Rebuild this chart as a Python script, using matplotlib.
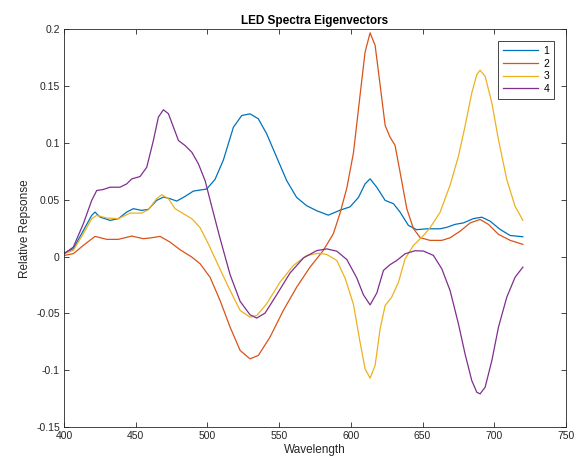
import matplotlib
matplotlib.use('Agg')
import matplotlib.pyplot as plt

plt.rcParams['font.family'] = ['Liberation Sans', 'DejaVu Sans']

# eigenvector curves (wavelength, value)
wl1 = [400, 406.5, 413.5, 419.3, 421.6, 425.1, 432.1, 437.9, 443.7, 448.3, 454.1, 458.8, 464.6,
       469.3, 473.9, 478.6, 484.4, 490.2, 499.5, 505.3, 511.1, 518.1, 523.9, 529.7, 535.5,
       541.3, 548.3, 555.3, 562.2, 569.2, 576.2, 584.3, 592.5, 599.4, 605.3, 609.9, 613.4,
       618.1, 623.9, 629.7, 634.3, 640.1, 645.9, 652.9, 662.2, 666.9, 672.7, 678.5, 685.5,
       691.3, 697.1, 704.1, 711.1, 719.9]
ev1 = [0.003, 0.007, 0.023, 0.0363, 0.0392, 0.0348, 0.0319, 0.0334, 0.0392, 0.0422, 0.0407,
       0.0416, 0.0495, 0.0524, 0.051, 0.0489, 0.053, 0.0577, 0.0595, 0.068, 0.085, 0.1139,
       0.1242, 0.1257, 0.1213, 0.1081, 0.0874, 0.0668, 0.0521, 0.0448, 0.0404, 0.0365, 0.0409,
       0.0438, 0.0521, 0.064, 0.0685, 0.061, 0.0495, 0.0466, 0.0392, 0.0275, 0.0237, 0.0245,
       0.0245, 0.0258, 0.0284, 0.0297, 0.0335, 0.0347, 0.0312, 0.0239, 0.0186, 0.0175]

wl2 = [400, 406.5, 413.5, 421.6, 429.8, 437.9, 447.2, 455.3, 460, 467, 473.9, 480.9, 489.1, 494.9,
       501.8, 508.8, 515.8, 522.8, 529.7, 535.5, 543.6, 552.9, 562.2, 571.5, 580.8, 587.8,
       592.5, 597.2, 601.8, 606.4, 609.9, 613.4, 616.9, 620.4, 623.9, 627.3, 630.8, 634.3,
       639, 643.6, 648.3, 655.2, 663.4, 669.2, 676.2, 683.2, 690.1, 695.9, 702.9, 711.1, 719.9]
ev2 = [0.001, 0.0026, 0.0099, 0.0178, 0.0152, 0.0152, 0.0181, 0.0158, 0.0164, 0.0178, 0.0128,
       0.0061, -0.0004, -0.0063, -0.0181, -0.0386, -0.0621, -0.0826, -0.09, -0.087, -0.0709,
       -0.0474, -0.0269, -0.0093, 0.0055, 0.0202, 0.0385, 0.0605, 0.0913, 0.142, 0.18, 0.197,
       0.186, 0.151, 0.1155, 0.1052, 0.098, 0.0744, 0.0422, 0.0247, 0.0167, 0.0143, 0.0143,
       0.0166, 0.0224, 0.0297, 0.0327, 0.0284, 0.0196, 0.0143, 0.0108]

wl3 = [400, 406.5, 413.5, 419.3, 422.8, 429.8, 437.9, 446, 454.1, 458.8, 464.6, 468.1, 472.8,
       477.4, 483.2, 489.1, 494.9, 500.7, 506.5, 514.7, 522.8, 529.7, 534.4, 541.3, 550.6,
       559.9, 569.2, 577.4, 583.2, 590.2, 596, 601.8, 606.4, 609.9, 613.4, 616.9, 620.4, 623.9,
       628.5, 633.2, 637.8, 643.6, 650.6, 655.2, 662.2, 669.2, 675, 679.6, 684.3, 687.8, 690.1,
       693.6, 698.3, 702.9, 708.7, 714.5, 719.9]
ev3 = [0.0025, 0.0055, 0.0202, 0.0334, 0.0363, 0.034, 0.0334, 0.0383, 0.0383, 0.0413, 0.051,
       0.0545, 0.051, 0.0422, 0.0378, 0.0334, 0.0255, 0.011, -0.0048, -0.0269, -0.0474,
       -0.0533, -0.0518, -0.0415, -0.0225, -0.0078, 0.001, 0.003, 0.0019, -0.0034, -0.019,
       -0.042, -0.0753, -0.0988, -0.107, -0.0958, -0.0635, -0.043, -0.0356, -0.0225, -0.0019,
       0.0098, 0.0186, 0.0254, 0.039, 0.063, 0.0884, 0.1148, 0.1441, 0.1602, 0.1641, 0.1588,
       0.1353, 0.103, 0.0678, 0.0443, 0.032]

wl4 = [400, 406.5, 413.5, 419.3, 422.8, 427.4, 432.1, 439, 443.7, 447.2, 453, 457.7, 462.3, 465.8,
       469.3, 472.8, 476.3, 479.8, 484.4, 489.1, 493.7, 498.4, 502.4, 508.8, 515.8, 522.8,
       529.7, 534.4, 540.2, 548.3, 557.6, 567, 576.2, 583.2, 590.2, 597.2, 604.1, 608.7, 613.4,
       618.1, 622.7, 627.3, 632, 637.8, 644.8, 650.6, 657.5, 663.4, 669.2, 675, 679.6, 684.3,
       687.8, 690.1, 693.6, 698.3, 702.9, 708.7, 714.5, 719.9]
ev4 = [0.0025, 0.0084, 0.029, 0.0495, 0.0582, 0.0591, 0.0611, 0.0611, 0.064, 0.0684, 0.0705,
       0.0787, 0.1022, 0.1228, 0.1293, 0.1258, 0.114, 0.1022, 0.0978, 0.0919, 0.0817, 0.0668,
       0.047, 0.016, -0.0159, -0.0394, -0.0512, -0.0541, -0.0497, -0.0335, -0.0144, -0.0011,
       0.0053, 0.0068, 0.0048, -0.0026, -0.0187, -0.0335, -0.0425, -0.032, -0.0122, -0.0071,
       -0.0034, 0.0025, 0.0052, 0.0049, 0.0011, -0.0107, -0.030, -0.0592, -0.0856, -0.1091,
       -0.1194, -0.1208, -0.115, -0.0915, -0.0621, -0.0357, -0.0181, -0.0093]

labels = ['1', '2', '3', '4']
colors = ['#0072BD', '#D95319', '#EDB120', '#7E2F8E']

#%%
fig = plt.figure(figsize=(5.84, 4.65), dpi=100)
ax = fig.add_axes([0.1096, 0.0817, 0.8596, 0.855])

for wl, ev, lab, c in zip([wl1, wl2, wl3, wl4], [ev1, ev2, ev3, ev4], labels, colors):
    ax.plot(wl, ev, color=c, linewidth=0.9, label=lab, solid_joinstyle='round')

ax.set_xlim(400, 750)
ax.set_ylim(-0.15, 0.2)
ax.set_xticks([400, 450, 500, 550, 600, 650, 700, 750])
ax.set_yticks([-0.15, -0.1, -0.05, 0, 0.05, 0.1, 0.15, 0.2])
ax.set_yticklabels(['-0.15', '-0.1', '-0.05', '0', '0.05', '0.1', '0.15', '0.2'])
ax.tick_params(direction='in', top=True, right=True, labelsize=7.5, length=3.5, width=0.6,
               colors='#262626', pad=3)
for s in ax.spines.values():
    s.set_linewidth(0.6)
    s.set_color('#262626')

ax.set_xlabel('Wavelength', fontsize=8.5, color='#262626', labelpad=2)
ax.set_ylabel('Relative Repsonse', fontsize=8.5, color='#262626', labelpad=4)
ax.set_title('LED Spectra Eigenvectors', fontsize=8.5, fontweight='bold', pad=4)

leg = ax.legend(loc='upper right', fontsize=7.5, fancybox=False, edgecolor='#262626',
                framealpha=1, handlelength=3.4, handletextpad=0.5, labelspacing=0.25,
                borderaxespad=1.15, borderpad=0.45)
leg.get_frame().set_linewidth(0.6)

plt.savefig('out.png', dpi=100)
